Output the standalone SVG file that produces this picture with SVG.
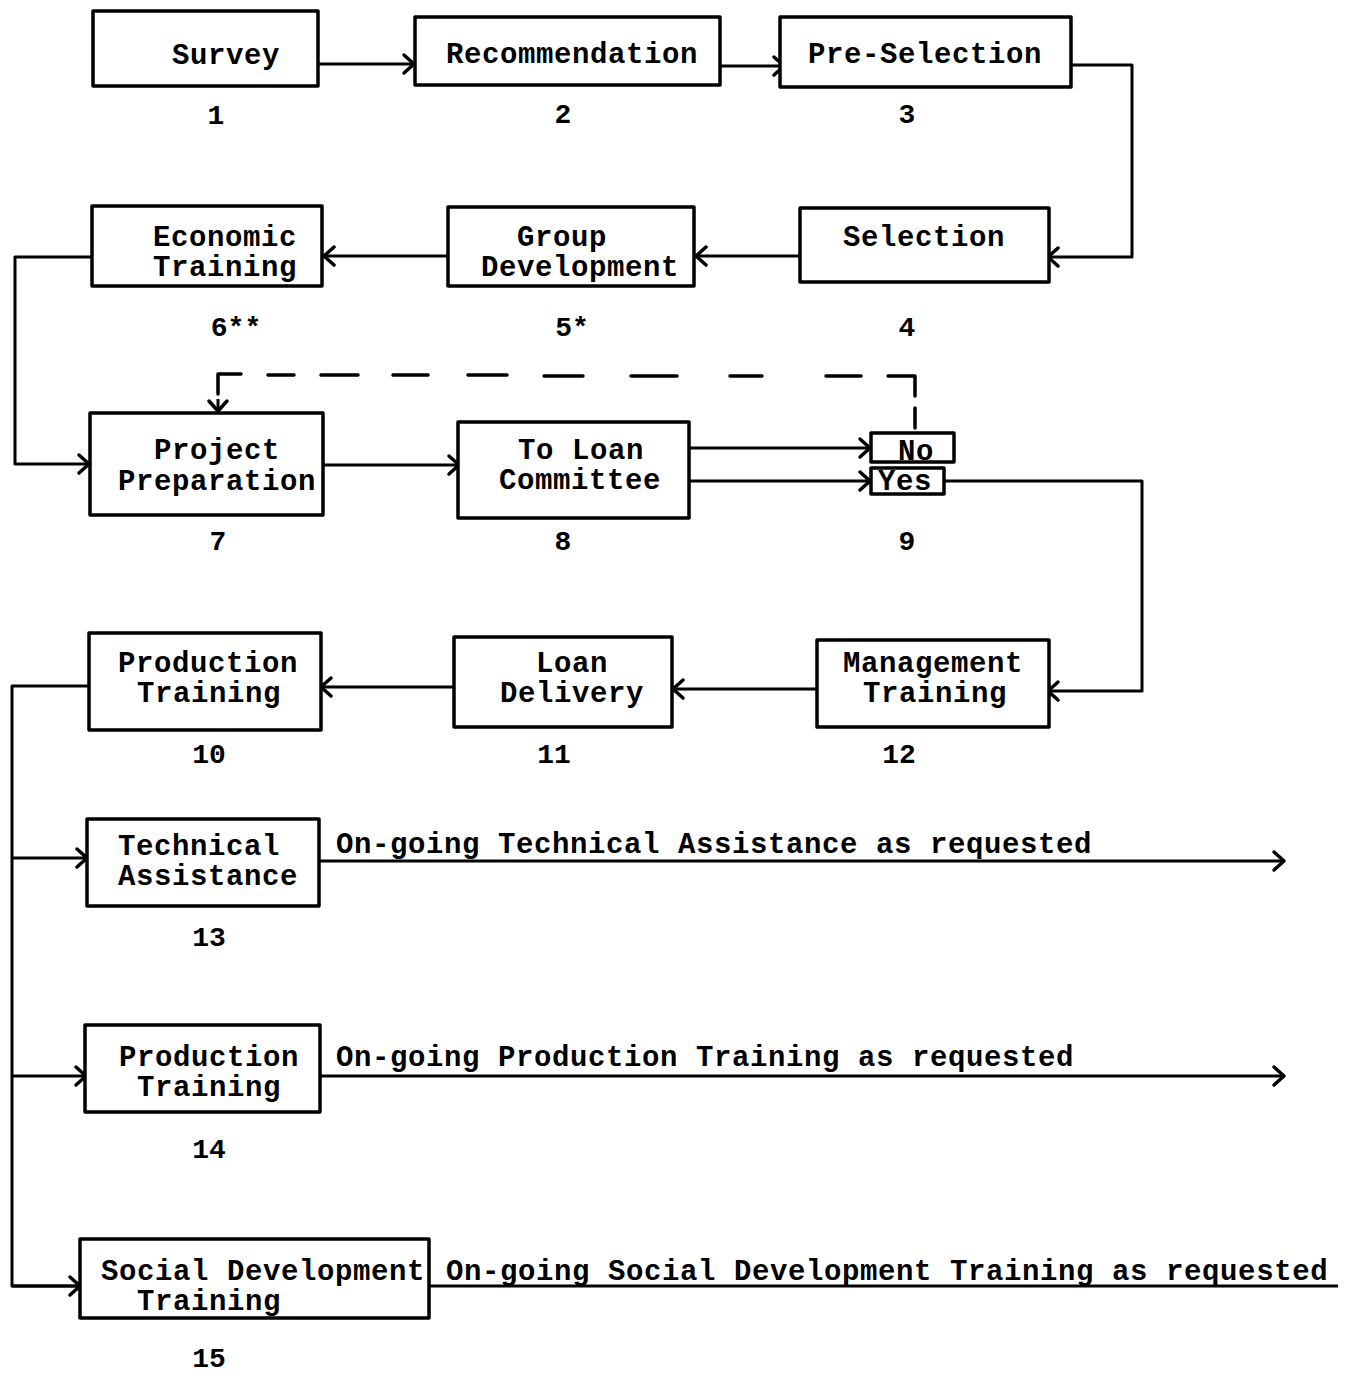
<svg xmlns="http://www.w3.org/2000/svg" width="1352" height="1375" viewBox="0 0 1352 1375">
<defs>
<style>
.box{fill:#fff;stroke:#000;stroke-width:3.5;stroke-linejoin:round}
.t{font-family:"Liberation Mono","Courier New",monospace;font-weight:bold;font-size:29px;letter-spacing:0.6px;fill:#000}
.n{font-family:"Liberation Mono","Courier New",monospace;font-weight:bold;font-size:28px;fill:#000;text-anchor:middle}
.c{fill:none;stroke:#000;stroke-width:3;stroke-linejoin:round}
.d{fill:none;stroke:#000;stroke-width:3.5;stroke-linecap:round;stroke-linejoin:round}
</style>
<marker id="ah" markerUnits="userSpaceOnUse" markerWidth="16" markerHeight="20" refX="12" refY="9" orient="auto" overflow="visible">
<path d="M2,0 L12,9 L2,18" fill="none" stroke="#000" stroke-width="3.5" stroke-linecap="round" stroke-linejoin="round"/>
</marker>
</defs>
<rect width="1352" height="1375" fill="#fff"/>

<g id="connectors">
<path class="c" d="M318,64 H414" marker-end="url(#ah)"/>
<path class="c" d="M720,66 H784" marker-end="url(#ah)"/>
<path class="c" d="M1071,65 H1132 V257 H1048" marker-end="url(#ah)"/>
<path class="c" d="M800,256 H696" marker-end="url(#ah)"/>
<path class="c" d="M448,256 H324" marker-end="url(#ah)"/>
<path class="c" d="M92,257 H15 V464 H89" marker-end="url(#ah)"/>
<path class="c" d="M323,465 H459" marker-end="url(#ah)"/>
<path class="c" d="M689,448 H870" marker-end="url(#ah)"/>
<path class="c" d="M689,481 H870" marker-end="url(#ah)"/>
<g id="dashed-no-loop">
<path class="d" d="M218,394 V374 H241"/>
<path class="c" d="M218,399 V411" marker-end="url(#ah)"/>
<path class="d" d="M268,375 H294 M321,375 H358 M393,375 H428 M468,375 H507 M544,376 H583 M631,376 H677 M730,376 H762 M826,376 H861"/>
<path class="d" d="M888,376 H915 V396 M915,408 V428"/>
</g>
<path class="c" d="M944,481 H1142 V691 H1048" marker-end="url(#ah)"/>
<path class="c" d="M817,689 H673" marker-end="url(#ah)"/>
<path class="c" d="M454,687 H321" marker-end="url(#ah)"/>
<path class="c" d="M89,686 H12 V1286 H79"/>
<path class="c" d="M12,1286 H80" marker-end="url(#ah)"/>
<path class="c" d="M12,858 H87" marker-end="url(#ah)"/>
<path class="c" d="M12,1076 H86" marker-end="url(#ah)"/>
<path class="c" d="M319,861 H1284" marker-end="url(#ah)"/>
<path class="c" d="M320,1076 H1284" marker-end="url(#ah)"/>
<path class="c" d="M429,1286 H1338"/>
</g>

<g id="n1"><rect class="box" x="93" y="11" width="225" height="75"/><text class="t" x="172" y="64">Survey</text><text class="n" x="216" y="124">1</text></g>
<g id="n2"><rect class="box" x="415" y="17" width="305" height="68"/><text class="t" x="446" y="63">Recommendation</text><text class="n" x="563" y="123">2</text></g>
<g id="n3"><rect class="box" x="780" y="17" width="291" height="70"/><text class="t" x="808" y="63">Pre-Selection</text><text class="n" x="907" y="123">3</text></g>
<g id="n4"><rect class="box" x="800" y="208" width="249" height="74"/><text class="t" x="843" y="246">Selection</text><text class="n" x="907" y="336">4</text></g>
<g id="n5"><rect class="box" x="448" y="207" width="246" height="79"/><text class="t" x="517" y="246">Group</text><text class="t" x="481" y="276">Development</text><text class="n" x="572" y="336">5*</text></g>
<g id="n6"><rect class="box" x="92" y="206" width="230" height="80"/><text class="t" x="153" y="246">Economic</text><text class="t" x="153" y="276">Training</text><text class="n" x="236" y="336">6**</text></g>
<g id="n7"><rect class="box" x="90" y="413" width="233" height="102"/><text class="t" x="154" y="459">Project</text><text class="t" x="118" y="490">Preparation</text><text class="n" x="218" y="550">7</text></g>
<g id="n8"><rect class="box" x="458" y="422" width="231" height="96"/><text class="t" x="518" y="459">To Loan</text><text class="t" x="499" y="489">Committee</text><text class="n" x="563" y="550">8</text></g>
<g id="n9">
<rect class="box" x="871" y="433" width="83" height="29"/><text class="t" x="898" y="460">No</text>
<rect class="box" x="871" y="468" width="73" height="26"/><text class="t" x="878" y="490">Yes</text>
<text class="n" x="907" y="550">9</text></g>
<g id="n12"><rect class="box" x="817" y="640" width="232" height="87"/><text class="t" x="843" y="672">Management</text><text class="t" x="863" y="702">Training</text><text class="n" x="899" y="763">12</text></g>
<g id="n11"><rect class="box" x="454" y="637" width="218" height="90"/><text class="t" x="536" y="672">Loan</text><text class="t" x="500" y="702">Delivery</text><text class="n" x="554" y="763">11</text></g>
<g id="n10"><rect class="box" x="89" y="633" width="232" height="97"/><text class="t" x="118" y="672">Production</text><text class="t" x="137" y="702">Training</text><text class="n" x="209" y="763">10</text></g>
<g id="n13"><rect class="box" x="87" y="819" width="232" height="87"/><text class="t" x="118" y="855">Technical</text><text class="t" x="118" y="885">Assistance</text><text class="n" x="209" y="946">13</text>
<text class="t" x="336" y="853">On-going Technical Assistance as requested</text></g>
<g id="n14"><rect class="box" x="85" y="1025" width="235" height="87"/><text class="t" x="119" y="1066">Production</text><text class="t" x="137" y="1096">Training</text><text class="n" x="209" y="1158">14</text>
<text class="t" x="336" y="1066">On-going Production Training as requested</text></g>
<g id="n15"><rect class="box" x="80" y="1239" width="349" height="79"/><text class="t" x="101" y="1280">Social Development</text><text class="t" x="137" y="1310">Training</text><text class="n" x="209" y="1367">15</text>
<text class="t" x="446" y="1280">On-going Social Development Training as requested</text></g>
</svg>
